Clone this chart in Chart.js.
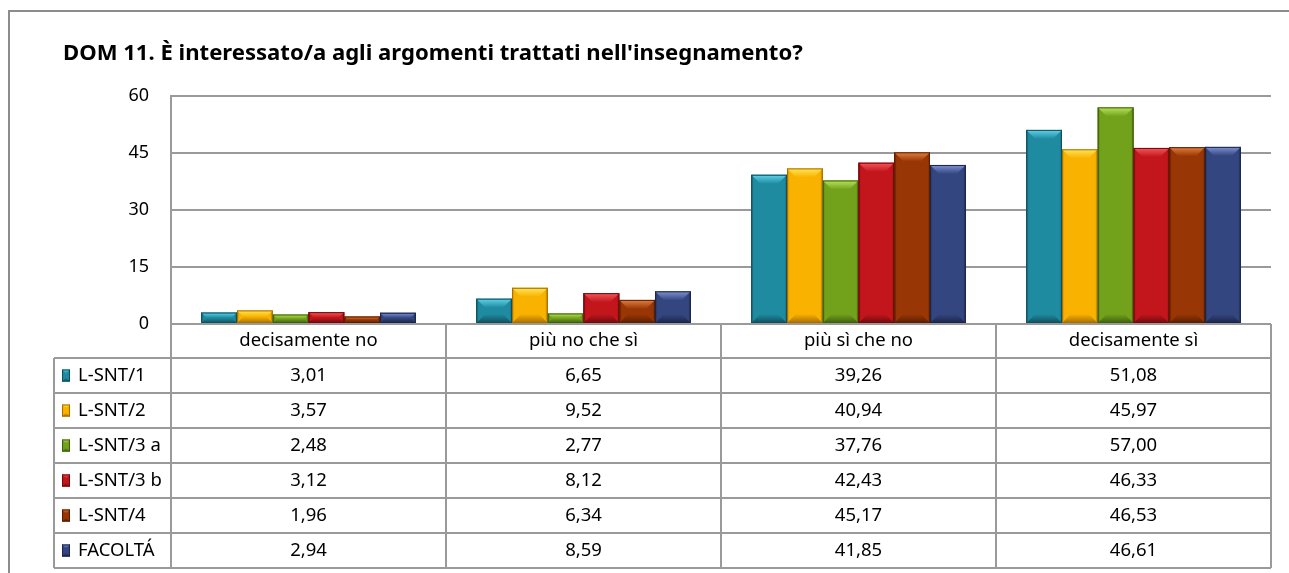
<!DOCTYPE html>
<html>
<head>
<meta charset="utf-8">
<script src="https://cdn.jsdelivr.net/npm/chart.js@4/dist/chart.umd.min.js"></script>
<style>
  html, body { margin: 0; padding: 0; background: #fff; }
  #wrap { width: 1289px; height: 573px; }
</style>
</head>
<body>
<div id="wrap"><canvas id="myChart" width="1289" height="573"></canvas></div>
<script>
'use strict'

const titleText = "DOM 11. È interessato/a agli argomenti trattati nell'insegnamento?";
const categories = ['decisamente no', 'più no che sì', 'più sì che no', 'decisamente sì'];
const seriesNames = ['L-SNT/1', 'L-SNT/2', 'L-SNT/3 a', 'L-SNT/3 b', 'L-SNT/4', 'FACOLTÁ'];

const lsnt1 = [3.01, 6.65, 39.26, 51.08];
const lsnt2 = [3.57, 9.52, 40.94, 45.97];
const lsnt3a = [2.48, 2.77, 37.76, 57.00];
const lsnt3b = [3.12, 8.12, 42.43, 46.33];
const lsnt4 = [1.96, 6.34, 45.17, 46.53];
const facolta = [2.94, 8.59, 41.85, 46.61];

const yTicks = [0, 15, 30, 45, 60];

// colori: base, chiaro (smusso in alto), scuro (bordi)
const palette = [
    { base: '#1f8ba1', light: '#62d3ea', dark: '#10505e' },
    { base: '#f9b200', light: '#ffe65a', dark: '#a86f00' },
    { base: '#72a21c', light: '#b8e45a', dark: '#41600d' },
    { base: '#c3161c', light: '#f5585c', dark: '#700a0d' },
    { base: '#993605', light: '#e3803f', dark: '#5a1f00' },
    { base: '#34467f', light: '#7f93d4', dark: '#1a2549' }
];

const allSeries = [lsnt1, lsnt2, lsnt3a, lsnt3b, lsnt4, facolta];

const FONT = '"Noto Sans", "Open Sans", sans-serif';
const LINE = '#9a9a9a';
const TITLE_WIDTH = 740;

function fmt(v) {
    return v.toFixed(2).replace('.', ',');
}

// barra con effetto smussato
function drawBevel(ctx, x, y, w, h, c) {
    if (h <= 0) return;
    const b = Math.min(9, h / 2, w / 2);
    const s = Math.min(3, w / 4);

    ctx.fillStyle = c.base;
    ctx.fillRect(x, y, w, h);

    // lati scuri
    let g = ctx.createLinearGradient(x, 0, x + w, 0);
    g.addColorStop(0, c.dark);
    g.addColorStop(s / w, c.base + '00');
    g.addColorStop(1 - s / w, c.base + '00');
    g.addColorStop(1, c.dark);
    ctx.fillStyle = g;
    ctx.fillRect(x, y, w, h);

    // smusso in basso
    g = ctx.createLinearGradient(0, y + h - b, 0, y + h);
    g.addColorStop(0, c.base);
    g.addColorStop(1, c.dark);
    ctx.fillStyle = g;
    ctx.beginPath();
    ctx.moveTo(x, y + h);
    ctx.lineTo(x + w, y + h);
    ctx.lineTo(x + w - b, y + h - b);
    ctx.lineTo(x + b, y + h - b);
    ctx.closePath();
    ctx.fill();

    // smusso in alto
    g = ctx.createLinearGradient(0, y, 0, y + b);
    g.addColorStop(0, c.light);
    g.addColorStop(1, c.base);
    ctx.fillStyle = g;
    ctx.beginPath();
    ctx.moveTo(x, y);
    ctx.lineTo(x + w, y);
    ctx.lineTo(x + w - b, y + b);
    ctx.lineTo(x + b, y + b);
    ctx.closePath();
    ctx.fill();

    ctx.strokeStyle = c.dark;
    ctx.lineWidth = 1;
    ctx.strokeRect(x + 0.5, y + 0.5, w - 1, h - 1);
}

const decorPlugin = {
    id: 'decor',
    beforeDraw(chart) {
        const ctx = chart.ctx;
        ctx.save();
        ctx.fillStyle = '#fff';
        ctx.fillRect(0, 0, chart.width, chart.height);
        // cornice esterna
        ctx.strokeStyle = '#8c8c8c';
        ctx.lineWidth = 2;
        ctx.strokeRect(9, 11, chart.width + 20, chart.height + 20);
        // titolo, dimensione adattata alla larghezza
        ctx.font = 'bold 20px ' + FONT;
        const size = 20 * TITLE_WIDTH / ctx.measureText(titleText).width;
        ctx.font = 'bold ' + size.toFixed(1) + 'px ' + FONT;
        ctx.fillStyle = '#000';
        ctx.textAlign = 'left';
        ctx.textBaseline = 'alphabetic';
        ctx.fillText(titleText, 63, 60);
        ctx.restore();
    },
    afterDatasetsDraw(chart) {
        const ctx = chart.ctx;
        ctx.save();
        chart.data.datasets.forEach((ds, i) => {
            const meta = chart.getDatasetMeta(i);
            meta.data.forEach(bar => {
                const p = bar.getProps(['x', 'y', 'base', 'width'], true);
                drawBevel(ctx, p.x - p.width / 2, p.y, p.width, p.base - p.y, palette[i]);
            });
        });
        ctx.restore();
    },
    afterDraw(chart) {
        const ctx = chart.ctx;
        const area = chart.chartArea;
        const colW = (area.right - area.left) / categories.length;
        const catTop = area.bottom;
        const catH = 34;
        const rowH = 35;
        const labelLeft = 54;
        const tableTop = catTop + catH;
        const tableBottom = tableTop + rowH * seriesNames.length;

        ctx.save();
        ctx.strokeStyle = LINE;
        ctx.lineWidth = 2;

        // righe orizzontali
        ctx.beginPath();
        ctx.moveTo(area.left, catTop);
        ctx.lineTo(area.right, catTop);
        for (let r = 0; r <= seriesNames.length; r++) {
            const y = tableTop + r * rowH;
            ctx.moveTo(labelLeft, y);
            ctx.lineTo(area.right, y);
        }
        // righe verticali
        ctx.moveTo(labelLeft, tableTop);
        ctx.lineTo(labelLeft, tableBottom);
        for (let c = 0; c <= categories.length; c++) {
            const x = area.left + c * colW;
            ctx.moveTo(x, catTop);
            ctx.lineTo(x, tableBottom);
        }
        ctx.stroke();

        ctx.fillStyle = '#000';
        ctx.font = '18.5px ' + FONT;
        ctx.textBaseline = 'middle';
        ctx.textAlign = 'center';
        categories.forEach((cat, c) => {
            ctx.fillText(cat, area.left + (c + 0.5) * colW, catTop + catH / 2);
        });

        seriesNames.forEach((name, r) => {
            const cy = tableTop + (r + 0.5) * rowH;
            drawBevel(ctx, 62, cy - 6, 8, 12, palette[r]);
            ctx.fillStyle = '#000';
            ctx.textAlign = 'left';
            ctx.fillText(name, 78, cy);
            ctx.textAlign = 'center';
            allSeries[r].forEach((v, c) => {
                ctx.fillText(fmt(v), area.left + (c + 0.5) * colW, cy);
            });
        });
        ctx.restore();
    }
};

const ctx = document.getElementById('myChart').getContext('2d');

const chart = new Chart(ctx, {
    type: 'bar',
    data: {
        labels: categories,
        datasets: seriesNames.map((name, i) => ({
            label: name,
            data: allSeries[i],
            backgroundColor: palette[i].base,
            borderWidth: 0
        }))
    },
    options: {
        responsive: false,
        animation: false,
        events: [],
        layout: {
            padding: { left: 0, top: 96, right: 18, bottom: 249 }
        },
        datasets: {
            bar: { categoryPercentage: 0.78, barPercentage: 1.0 }
        },
        plugins: {
            legend: { display: false },
            title: { display: false },
            tooltip: { enabled: false }
        },
        scales: {
            x: { display: false },
            y: {
                min: yTicks[0],
                max: yTicks[yTicks.length - 1],
                afterBuildTicks(scale) {
                    scale.ticks = yTicks.map(v => ({ value: v }));
                },
                afterFit(scale) {
                    scale.width = 171;
                },
                grid: { color: LINE, lineWidth: 2, drawTicks: false },
                border: { display: true, color: LINE, width: 2 },
                ticks: {
                    padding: 22,
                    color: '#000',
                    font: { family: FONT, size: 18 }
                }
            }
        }
    },
    plugins: [decorPlugin]
});
</script>
</body>
</html>
